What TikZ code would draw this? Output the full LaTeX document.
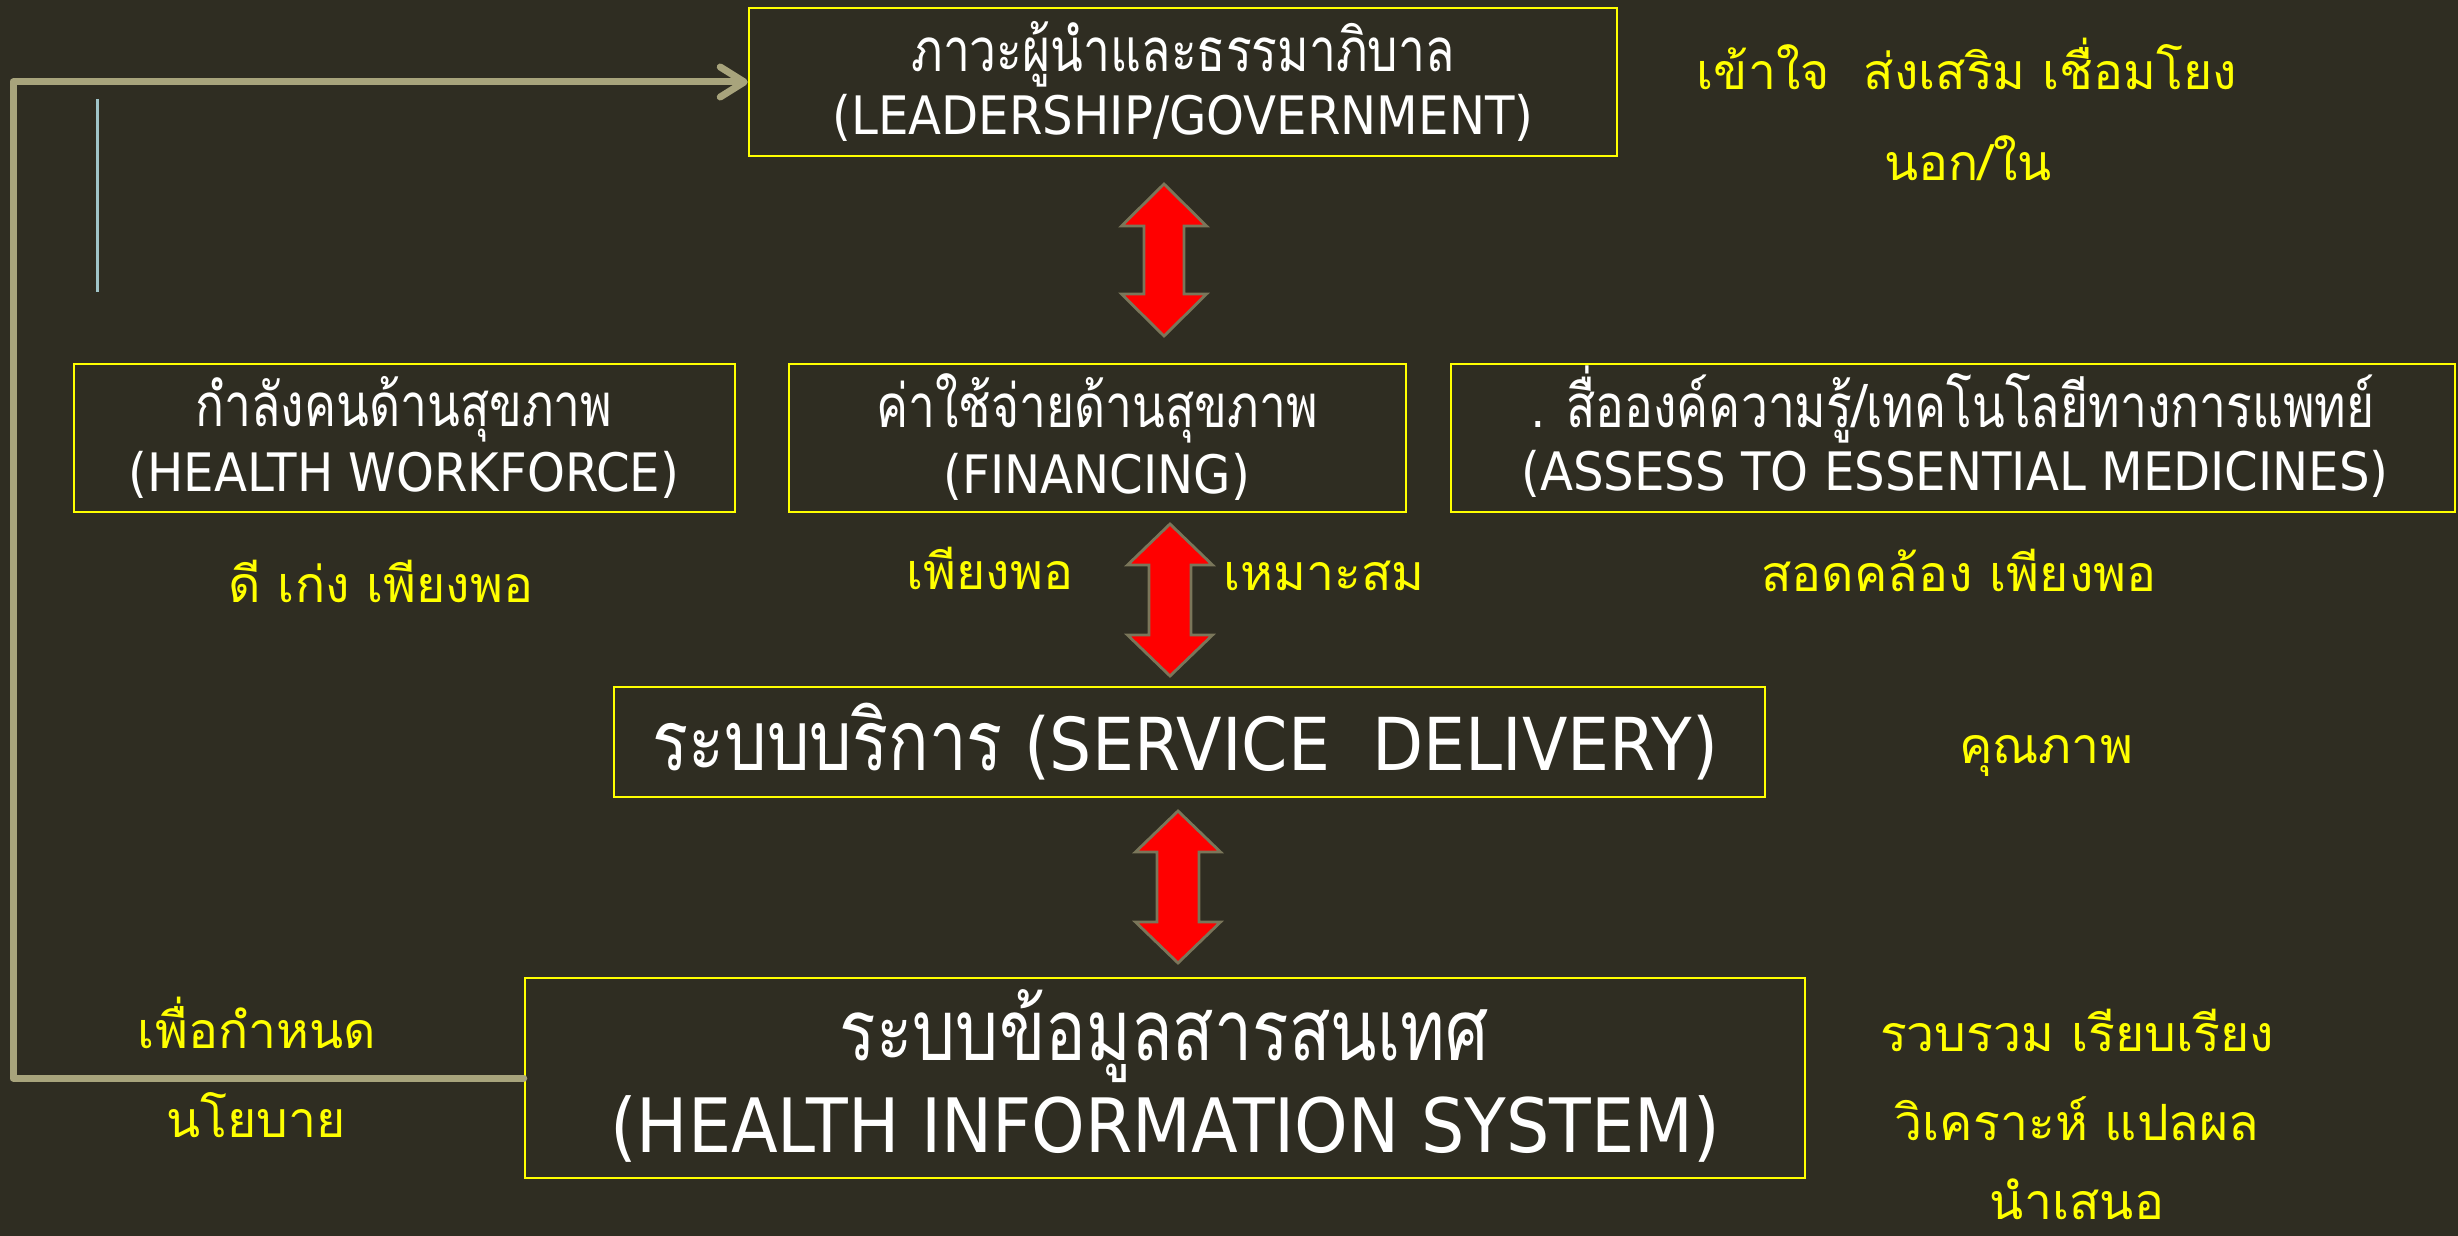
\documentclass[tikz,border=0pt]{standalone}
\usepackage{fontspec}
\usetikzlibrary{arrows.meta}
\setmainfont{DejaVu Sans}
\newfontfamily\latC[FakeStretch=0.91]{DejaVu Sans}
\newfontfamily\thaiC[Script=Thai,FakeStretch=0.8]{Loma}
\newfontfamily\thaiR[Script=Thai]{Loma}
\definecolor{bg}{RGB}{47,45,34}
\definecolor{fbline}{RGB}{168,164,124}
\definecolor{arrowedge}{RGB}{122,118,90}
\definecolor{bluish}{RGB}{160,196,200}
\definecolor{ylw}{RGB}{255,255,0}
\newcommand\blockarrow[6]{%
  \draw[blockarr] (#1,#2) -- ({#1+#4},{#2+#6}) -- ({#1+#5},{#2+#6}) -- ({#1+#5},{#3-#6})
    -- ({#1+#4},{#3-#6}) -- (#1,#3) -- ({#1-#4},{#3-#6}) -- ({#1-#5},{#3-#6})
    -- ({#1-#5},{#2+#6}) -- ({#1-#4},{#2+#6}) -- cycle;}
\begin{document}
\begin{tikzpicture}[x=1pt,y=-1pt,
  box/.style={draw=ylw, line width=2.5pt, inner sep=0pt, fill=none},
  wtxt/.style={text=white, anchor=base, inner sep=0pt},
  ytxt/.style={text=ylw, anchor=base, inner sep=0pt, font=\thaiR\fontsize{50}{60}\selectfont},
  blockarr/.style={fill=red, draw=arrowedge, line width=2.8pt, line join=miter},
  fb/.style={draw=fbline, line width=7pt, line join=round, line cap=round}]
\useasboundingbox (0,0) rectangle (2458,1236);
\fill[bg] (0,0) rectangle (2458,1236);

% boxes
\node[box, minimum width=868pt, minimum height=148pt] (lead) at (1183,82) {};
\node[box, minimum width=661pt, minimum height=148pt] (hw) at (404.5,438) {};
\node[box, minimum width=617pt, minimum height=148pt] (fin) at (1097.5,438) {};
\node[box, minimum width=1004pt, minimum height=148pt] (med) at (1953,438) {};
\node[box, minimum width=1151pt, minimum height=110pt] (sd) at (1189.5,742) {};
\node[box, minimum width=1280pt, minimum height=200pt] (his) at (1165,1078) {};

% box texts
\node[wtxt, font=\thaiC\fontsize{60}{66}\selectfont] (leadA) at (1183,72) {ภาวะผู้นำและธรรมาภิบาล};
\node[wtxt, font=\latC\fontsize{53}{60}\selectfont] (leadB) at (1183,135) {(LEADERSHIP/GOVERNMENT)};
\node[wtxt, font=\thaiC\fontsize{60}{66}\selectfont] (hwA) at (404,426) {กำลังคนด้านสุขภาพ};
\node[wtxt, font=\latC\fontsize{53}{60}\selectfont] (hwB) at (404,491) {(HEALTH WORKFORCE)};
\node[wtxt, font=\thaiC\fontsize{60}{66}\selectfont] (finA) at (1097,427) {ค่าใช้จ่ายด้านสุขภาพ};
\node[wtxt, font=\latC\fontsize{53}{60}\selectfont] (finB) at (1097,493) {(FINANCING)};
\node[wtxt, font=\thaiC\fontsize{60}{66}\selectfont] (medA) at (1953,427) {. สื่อองค์ความรู้/เทคโนโลยีทางการแพทย์};
\node[wtxt, font=\latC\fontsize{53}{60}\selectfont] (medB) at (1955,490) {(ASSESS TO ESSENTIAL MEDICINES)};
\node[wtxt, font=\latC\fontsize{73}{80}\selectfont] (sdA) at (1185,770) {{\thaiC\fontsize{84}{90}\selectfont ระบบบริการ} (SERVICE\ \ DELIVERY)};
\node[wtxt, font=\thaiC\fontsize{85}{90}\selectfont] (hisA) at (1164,1060) {ระบบข้อมูลสารสนเทศ};
\node[wtxt, font=\latC\fontsize{75}{80}\selectfont] (hisB) at (1165,1152) {(HEALTH INFORMATION SYSTEM)};

% yellow labels
\node[ytxt] (y1) at (1967,90) {เข้าใจ\ \ ส่งเสริม เชื่อมโยง};
\node[ytxt] (y2) at (1968,180) {นอก/ใน};
\node[ytxt] (y3) at (381,602) {ดี เก่ง เพียงพอ};
\node[ytxt] (y4) at (990,589) {เพียงพอ};
\node[ytxt] (y5) at (1324,590) {เหมาะสม};
\node[ytxt] (y6) at (1959,591) {สอดคล้อง เพียงพอ};
\node[ytxt] (y7) at (2046,763) {คุณภาพ};
\node[ytxt] (y8) at (257,1048) {เพื่อกำหนด};
\node[ytxt] (y9) at (256,1137) {นโยบาย};
\node[ytxt] (y10) at (2077,1051) {รวบรวม เรียบเรียง};
\node[ytxt] (y11) at (2077,1140) {วิเคราะห์ แปลผล};
\node[ytxt] (y12) at (2077,1219) {นำเสนอ};

% red double arrows
\blockarrow{1164}{184}{336}{42.5}{20}{42}
\blockarrow{1170}{524}{676}{42.5}{21}{41}
\blockarrow{1178}{811}{963}{42.5}{21}{41}

% feedback connector
\coordinate (fbx) at (13,0);
\draw[fb, -{Straight Barb[length=24pt,width=30pt,round]}] (his.west) -- (his.west -| fbx) |- (lead.west);

% small bluish line
\coordinate (bl1) at (97,99);
\coordinate (bl2) at (97,292);
\draw[bluish, line width=3pt] (bl1) -- (bl2);
\end{tikzpicture}
\end{document}
